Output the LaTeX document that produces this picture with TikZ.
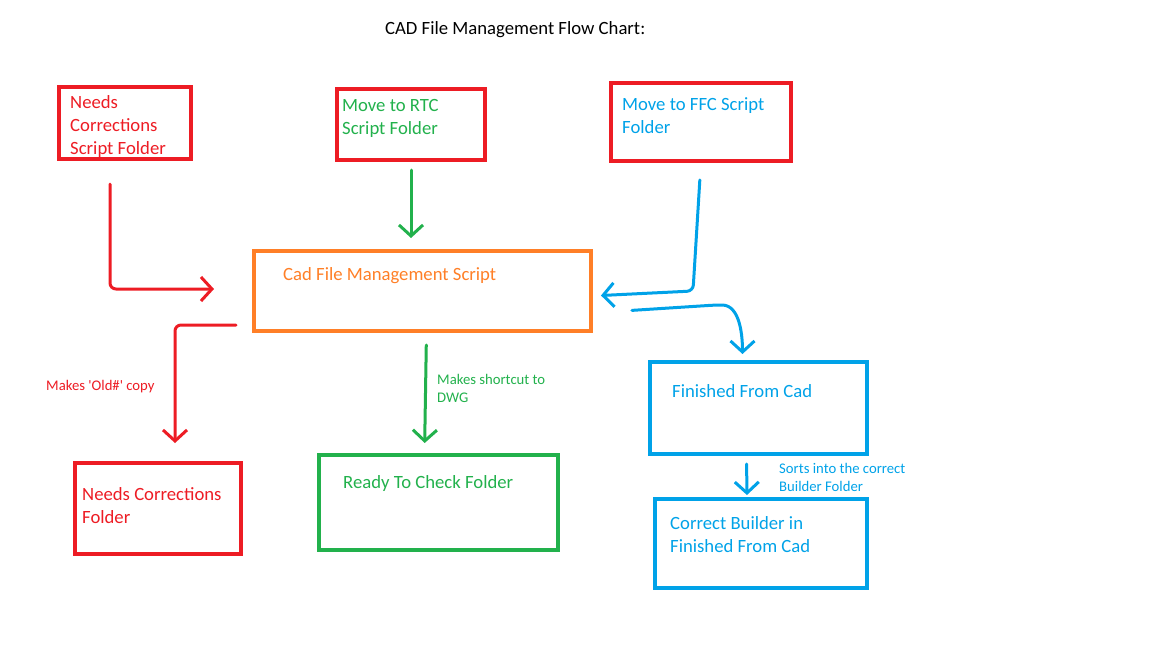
\documentclass[tikz,border=0pt]{standalone}
\usepackage{fontspec}
\setmainfont{Carlito}[Ligatures=TeXOff]
\usetikzlibrary{arrows.meta}

\definecolor{pred}{HTML}{ED1C24}
\definecolor{pgreen}{HTML}{22B14C}
\definecolor{pblue}{HTML}{00A2E8}
\definecolor{porange}{HTML}{FF7F27}

\tikzset{
	box/.style={draw, line width=4pt, anchor=north west, inner sep=0pt, outer sep=0pt},
	boxtext/.style={anchor=north west, inner sep=0pt, align=left, font=\fontsize{18.7}{23}\selectfont},
	smalltext/.style={inner sep=0pt, align=left, font=\fontsize{14.7}{18}\selectfont},
	arr/.style={line width=3pt, line cap=round, line join=round, rounded corners=6pt, -{Straight Barb[length=11pt,width=24pt]}}
}

\begin{document}
\begin{tikzpicture}[x=1pt,y=-1pt]
		\useasboundingbox (0,0) rectangle (1152,648);
		\node[font=\fontsize{18.7}{23}\selectfont, anchor=west, inner sep=0pt] (title) at (385,30) {CAD File Management Flow Chart:};
		% top row
		\node[box, draw=pred, minimum width=132pt, minimum height=72pt, label={[boxtext, text=pred, xshift=11pt, yshift=-8.5pt]north west:Needs\\Corrections\\Script Folder}] (ncs) at (59,87) {};
		\node[box, draw=pred, minimum width=148pt, minimum height=71pt, label={[boxtext, text=pgreen, xshift=5pt, yshift=-10pt]north west:Move to RTC\\Script Folder}] (rtc) at (337,89) {};
		\node[box, draw=pred, minimum width=180pt, minimum height=78pt, label={[boxtext, text=pblue, xshift=11pt, yshift=-14.5pt]north west:Move to FFC Script\\Folder}] (ffc) at (611,83) {};
		% script
		\node[box, draw=porange, minimum width=337pt, minimum height=80pt, label={[boxtext, text=porange, xshift=29pt, yshift=-16.5pt]north west:Cad File Management Script}] (cad) at (254,251) {};
		% bottom row
		\node[box, draw=pred, minimum width=166pt, minimum height=91pt, label={[boxtext, text=pred, xshift=7pt, yshift=-24.5pt]north west:Needs Corrections\\Folder}] (ncf) at (75,463) {};
		\node[box, draw=pgreen, minimum width=239pt, minimum height=95pt, label={[boxtext, text=pgreen, xshift=24pt, yshift=-20.5pt]north west:Ready To Check Folder}] (rtcf) at (319,455) {};
		\node[box, draw=pblue, minimum width=217pt, minimum height=92pt, label={[boxtext, text=pblue, xshift=22pt, yshift=-22.5pt]north west:Finished From Cad}] (ffcad) at (650,362) {};
		\node[box, draw=pblue, minimum width=212pt, minimum height=89pt, label={[boxtext, text=pblue, xshift=15pt, yshift=-17.5pt]north west:Correct Builder in\\Finished From Cad}] (cbf) at (655,499) {};
		% arrows
		\draw[arr, pred, shorten <=25pt, shorten >=40pt] ([xshift=-15pt]ncs.south) |- ([yshift=2pt]cad.west);
		\draw[arr, pgreen, shorten <=10pt, shorten >=13pt] (rtc.south) -- (rtc.south |- cad.north);
		\draw[arr, pblue, shorten <=19pt, shorten >=10pt] (ffc.south) -- ([xshift=-8pt]ffc.south |- cad.east) -- ([yshift=-5pt]cad.east);
		\draw[arr, pblue, shorten <=41pt, shorten >=8pt] ([yshift=-22pt]cad.east) -- ++(125,-8) to[out=0,in=90] ([xshift=-16pt]ffcad.north);
		\draw[arr, pred, shorten <=18pt, shorten >=20pt] ([yshift=-34pt]cad.west) -| ([xshift=17pt]ncf.north);
		\draw[arr, pgreen, shorten <=14pt, shorten >=12pt] ([xshift=4pt]cad.south) -- ([xshift=-14pt]rtcf.north);
		\draw[arr, pblue, shorten <=10pt, shorten >=4pt] ([xshift=-12pt]ffcad.south) -- ([xshift=-14pt]cbf.north);
		% notes
		\node[smalltext, text=pred, anchor=west] (oldcopy) at (46,387) {Makes 'Old\#' copy};
		\node[smalltext, text=pgreen, anchor=north west] (shortcut) at (437,374) {Makes shortcut to\\DWG};
		\node[smalltext, text=pblue, anchor=north west] (sorts) at (779,463) {Sorts into the correct\\Builder Folder};
	\end{tikzpicture}
\end{document}
